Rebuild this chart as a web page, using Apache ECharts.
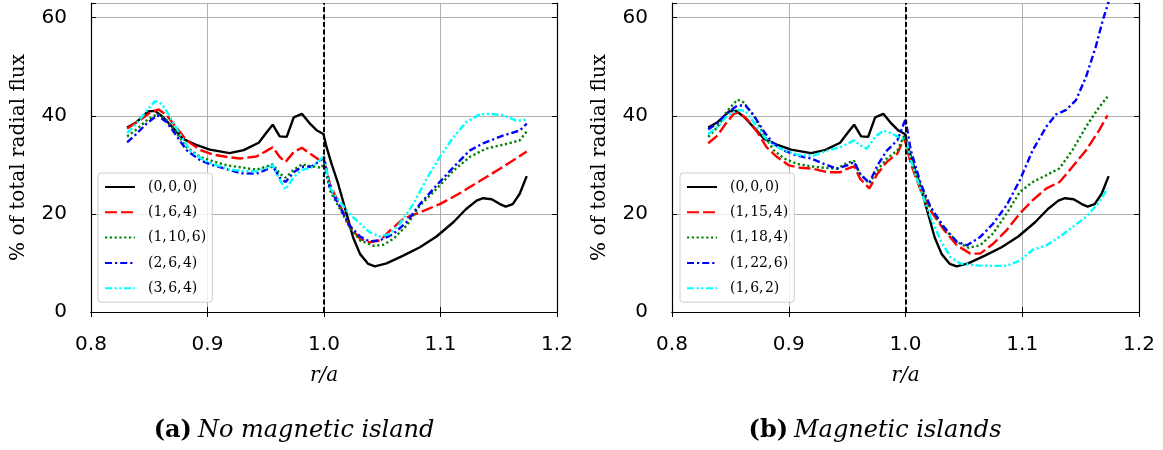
<!DOCTYPE html>
<html>
<head>
<meta charset="utf-8">
<script src="https://cdn.jsdelivr.net/npm/echarts@6.0.0/dist/echarts.min.js"></script>
<style>
  html, body { margin: 0; padding: 0; background: #fff; }
  #chart { width: 1163px; height: 450px; }
</style>
</head>
<body>
<div id="chart"></div>
<script>
// 坐标轴刻度
const xTicks = [0.8, 0.9, 1.0, 1.1, 1.2]
const yTicks = [0, 20, 40, 60]
const edgeX = 1.0

// 两个面板共用的曲线 (0,0,0)
const base000 = [[0.831,37.6],[0.839,38.7],[0.849,40.9],[0.855,41.0],[0.862,39.7],[0.871,37.4],[0.879,35.3],[0.891,34.0],[0.902,33.1],[0.919,32.4],[0.931,33.0],[0.944,34.5],[0.951,36.7],[0.956,38.2],[0.962,35.8],[0.968,35.7],[0.974,39.7],[0.981,40.4],[0.988,38.4],[0.994,37.0],[0.9995,36.3],[1.0022,33.6],[1.0065,30.2],[1.0122,26.1],[1.0194,20.0],[1.025,15.2],[1.031,11.8],[1.038,9.8],[1.0437,9.3],[1.0537,9.9],[1.068,11.5],[1.0823,13.2],[1.0966,15.4],[1.111,18.3],[1.122,21.0],[1.131,22.7],[1.1366,23.2],[1.144,23.0],[1.151,22.0],[1.156,21.5],[1.162,22.0],[1.168,24.1],[1.174,27.7]]

// (a) 无磁岛
const a164 = [[0.831,37.4],[0.842,39.1],[0.851,40.7],[0.858,41.3],[0.865,40.1],[0.874,37.4],[0.882,35.0],[0.894,33.0],[0.905,32.1],[0.917,31.6],[0.928,31.3],[0.942,31.7],[0.951,32.9],[0.956,33.6],[0.962,31.6],[0.967,30.6],[0.974,32.6],[0.981,33.5],[0.988,32.3],[0.9966,30.9],[1.0,31.0],[1.005,26.1],[1.0137,21.7],[1.0222,17.3],[1.031,14.9],[1.039,14.2],[1.048,14.6],[1.0566,16.6],[1.068,19.0],[1.0823,20.3],[1.0994,22.0],[1.1166,24.2],[1.1337,26.7],[1.151,29.2],[1.174,32.7]]
const a1106 = [[0.831,35.8],[0.839,37.2],[0.848,39.1],[0.857,40.4],[0.865,39.1],[0.874,36.3],[0.882,33.6],[0.894,31.6],[0.905,30.7],[0.917,29.9],[0.931,29.4],[0.942,29.0],[0.951,29.7],[0.956,30.1],[0.962,28.2],[0.967,27.4],[0.974,29.0],[0.981,30.1],[0.989,29.7],[0.998,29.4],[1.0,30.5],[1.005,24.8],[1.0137,21.0],[1.022,17.3],[1.031,14.6],[1.0423,13.5],[1.051,13.7],[1.0594,14.9],[1.0708,17.6],[1.0823,21.7],[1.0966,25.1],[1.111,28.8],[1.125,31.6],[1.139,33.3],[1.157,34.3],[1.168,35.0],[1.174,36.8]]
const a264 = [[0.831,34.6],[0.839,36.3],[0.848,38.5],[0.857,40.1],[0.865,38.7],[0.874,35.7],[0.882,33.0],[0.894,30.9],[0.905,29.9],[0.917,29.1],[0.928,28.3],[0.942,28.2],[0.951,29.1],[0.956,29.7],[0.962,27.4],[0.967,26.5],[0.974,28.5],[0.981,29.6],[0.989,29.6],[0.998,31.1],[1.0,31.6],[1.005,25.4],[1.0137,21.4],[1.022,17.6],[1.031,15.4],[1.039,14.4],[1.048,14.6],[1.0594,15.9],[1.0708,18.3],[1.0823,22.0],[1.0966,25.8],[1.111,29.5],[1.125,32.9],[1.1366,34.4],[1.154,36.0],[1.168,37.0],[1.174,38.4]]
const a364 = [[0.831,36.5],[0.839,38.4],[0.848,41.1],[0.855,43.0],[0.861,42.4],[0.868,39.7],[0.877,36.0],[0.885,32.9],[0.897,30.9],[0.908,29.9],[0.919,29.1],[0.931,28.7],[0.942,28.7],[0.951,29.4],[0.956,29.9],[0.962,27.0],[0.967,25.0],[0.974,27.5],[0.981,29.0],[0.989,29.4],[0.998,31.3],[1.0,31.6],[1.005,25.4],[1.0137,22.4],[1.022,20.0],[1.031,18.0],[1.039,16.3],[1.048,15.4],[1.0566,15.9],[1.065,18.0],[1.0766,22.0],[1.088,27.1],[1.0994,31.6],[1.111,35.6],[1.122,38.7],[1.1337,40.3],[1.142,40.4],[1.154,40.1],[1.165,39.0],[1.174,39.2]]

// (b) 有磁岛
const b1154 = [[0.831,34.4],[0.839,36.0],[0.846,38.4],[0.853,40.4],[0.857,40.7],[0.864,39.4],[0.873,36.7],[0.881,33.6],[0.890,31.6],[0.900,29.9],[0.910,29.4],[0.921,29.2],[0.933,28.5],[0.944,28.5],[0.950,29.2],[0.956,29.7],[0.961,27.2],[0.969,25.2],[0.976,28.2],[0.984,30.6],[0.993,32.3],[0.999,35.5],[1.0045,30.3],[1.013,24.8],[1.0215,20.7],[1.033,16.7],[1.044,13.6],[1.0555,11.9],[1.064,11.9],[1.075,13.9],[1.0867,16.7],[1.098,20.1],[1.109,22.8],[1.1207,25.2],[1.132,26.5],[1.143,29.6],[1.1547,33.0],[1.166,37.1],[1.173,40.1]]
const b1184 = [[0.831,35.7],[0.839,37.7],[0.847,40.9],[0.856,43.3],[0.861,42.8],[0.870,40.1],[0.879,36.0],[0.887,33.0],[0.896,31.3],[0.907,30.2],[0.919,29.7],[0.930,29.4],[0.941,29.2],[0.950,30.4],[0.956,30.8],[0.961,28.2],[0.969,26.2],[0.976,28.9],[0.984,31.3],[0.993,32.9],[0.999,36.0],[1.0045,31.0],[1.013,25.5],[1.0215,21.1],[1.033,17.0],[1.044,14.3],[1.054,13.1],[1.064,13.6],[1.075,16.0],[1.0867,20.1],[1.098,24.5],[1.109,26.5],[1.1207,27.9],[1.132,29.3],[1.143,33.0],[1.1547,37.8],[1.166,41.8],[1.173,43.9]]
const b1226 = [[0.831,37.2],[0.839,38.5],[0.847,40.5],[0.856,42.1],[0.863,42.1],[0.870,40.1],[0.879,36.7],[0.887,34.3],[0.896,32.9],[0.907,31.9],[0.919,31.3],[0.930,30.2],[0.941,29.2],[0.950,29.9],[0.956,30.6],[0.961,28.2],[0.969,26.3],[0.976,29.9],[0.984,32.9],[0.993,35.0],[1.0,39.3],[1.0045,33.0],[1.013,26.2],[1.0215,21.4],[1.033,17.3],[1.044,14.3],[1.0527,13.6],[1.064,15.3],[1.075,18.0],[1.0867,21.8],[1.098,26.9],[1.109,33.0],[1.1207,37.8],[1.129,40.3],[1.1377,41.2],[1.146,43.2],[1.1547,48.0],[1.163,54.1],[1.169,59.5],[1.174,63.3]]
const b162 = [[0.831,36.3],[0.839,37.7],[0.847,39.9],[0.856,41.2],[0.863,41.0],[0.870,38.7],[0.879,35.7],[0.887,34.0],[0.899,32.7],[0.910,31.9],[0.921,31.9],[0.933,32.9],[0.944,33.6],[0.951,34.4],[0.956,35.0],[0.961,34.0],[0.967,33.3],[0.974,35.7],[0.981,37.0],[0.989,36.3],[0.997,35.3],[1.0,35.7],[1.0045,31.0],[1.013,24.8],[1.0215,19.4],[1.030,14.6],[1.0385,11.2],[1.047,9.9],[1.061,9.5],[1.075,9.4],[1.0867,9.4],[1.098,10.5],[1.109,12.7],[1.1207,13.6],[1.132,15.3],[1.143,17.3],[1.1547,19.4],[1.166,22.4],[1.173,25.2]]

const namesA = ['(0,\u200a0,\u200a0)', '(1,\u200a6,\u200a4)', '(1,\u200a10,\u200a6)', '(2,\u200a6,\u200a4)', '(3,\u200a6,\u200a4)']
const namesB = ['(0,\u200a0,\u200a0)', '(1,\u200a15,\u200a4)', '(1,\u200a18,\u200a4)', '(1,\u200a22,\u200a6)', '(1,\u200a6,\u200a2)']

// 线型: 实线 / 虚线 / 点线 / 点划线 / 双点划线
const colors = ['#000000', '#ff0000', '#008000', '#0000ff', '#00ffff']
const dashes = ['solid', [12, 4], [2.2, 2.6], [7, 3, 2.2, 3], [7, 2.5, 2.2, 2.5, 2.2, 2.5]]

const serif = 'DejaVu Serif'
const sans = 'DejaVu Sans'

function line(name, data, i, panel) {
    return {
        name: name,
        type: 'line',
        xAxisIndex: panel * 2,
        yAxisIndex: panel * 2,
        data: data,
        symbol: 'none',
        smooth: false,
        clip: true,
        lineStyle: { color: colors[i], width: 2.4, type: dashes[i], cap: 'butt' },
        itemStyle: { color: colors[i] },
        z: 3
    }
}

function edgeLine(panel) {
    return {
        type: 'line',
        xAxisIndex: panel * 2,
        yAxisIndex: panel * 2,
        data: [],
        z: 5,
        markLine: {
            silent: true,
            symbol: ['none', 'none'],
            label: { show: false },
            lineStyle: { color: '#000', type: [5, 2.5], width: 2 },
            data: [{ xAxis: edgeX }]
        }
    }
}

function xAxes(panel) {
    let common = {
        type: 'value', gridIndex: panel, min: 0.8, max: 1.2, interval: 0.1,
        axisLine: { show: true, lineStyle: { color: '#000', width: 1.2 } },
        axisTick: { show: true, inside: true, length: 5, lineStyle: { color: '#000', width: 1 } }
    }
    return [
        Object.assign({}, common, {
            position: 'bottom',
            axisLabel: {
                margin: 23, fontFamily: sans, fontSize: 20, color: '#000',
                formatter: function (v) { return xTicks.some(t => Math.abs(t - v) < 1e-6) ? v.toFixed(1) : '' }
            },
            splitLine: { show: true, lineStyle: { color: '#b0b0b0', width: 1 } },
            name: 'r/a',
            nameLocation: 'middle',
            nameGap: 54,
            nameTextStyle: { fontFamily: serif, fontStyle: 'italic', fontSize: 20, color: '#000' }
        }),
        Object.assign({}, common, {
            position: 'top',
            axisLabel: { show: false },
            splitLine: { show: false }
        })
    ]
}

function yAxes(panel) {
    let common = {
        type: 'value', gridIndex: panel, min: 0, max: 63, interval: 20,
        axisLine: { show: true, lineStyle: { color: '#000', width: 1.2 } },
        axisTick: { show: true, inside: true, length: 5, lineStyle: { color: '#000', width: 1 } }
    }
    return [
        Object.assign({}, common, {
            position: 'left',
            axisLabel: {
                margin: 24, fontFamily: sans, fontSize: 20, color: '#000',
                formatter: function (v) { return yTicks.indexOf(v) >= 0 ? String(v) : '' }
            },
            splitLine: { show: true, lineStyle: { color: '#b0b0b0', width: 1 } },
            name: '% of total radial flux',
            nameLocation: 'middle',
            nameRotate: 90,
            nameGap: 62,
            nameTextStyle: { fontFamily: serif, fontSize: 20, color: '#000' }
        }),
        Object.assign({}, common, {
            position: 'right',
            axisLabel: { show: false },
            splitLine: { show: false }
        })
    ]
}

function legendFor(names, left) {
    return {
        data: names,
        orient: 'vertical',
        left: left,
        top: 173,
        itemWidth: 30,
        itemHeight: 14,
        itemGap: 11.3,
        padding: [7, 6, 7, 6],
        backgroundColor: 'rgba(255,255,255,0.8)',
        borderColor: '#cccccc',
        borderWidth: 1,
        borderRadius: 3,
        selectedMode: false,
        // 只画线, 隐藏折线图例上的圆点
        itemStyle: { opacity: 0 },
        textStyle: { fontFamily: serif, fontSize: 14, color: '#000', padding: [0, 0, 0, 8] }
    }
}

let myChart = echarts.init(document.getElementById('chart'), null, { renderer: 'canvas' })

let seriesA = [base000, a164, a1106, a264, a364].map((d, i) => line(namesA[i], d, i, 0))
let seriesB = [base000, b1154, b1184, b1226, b162].map((d, i) => line(namesB[i], d, i, 1))

let captionRich = {
    b: { fontFamily: serif, fontWeight: 'bold', fontSize: 24, fill: '#000' },
    i: { fontFamily: serif, fontStyle: 'italic', fontSize: 24, fill: '#000', padding: [0, 0, 0, 6] }
}

myChart.setOption({
    animation: false,
    backgroundColor: '#ffffff',
    grid: [
        { left: 91, top: 3, width: 466, height: 309 },
        { left: 672, top: 3, width: 467, height: 309 }
    ],
    xAxis: xAxes(0).concat(xAxes(1)),
    yAxis: yAxes(0).concat(yAxes(1)),
    legend: [legendFor(namesA, 98), legendFor(namesB, 680)],
    series: seriesA.concat(seriesB, [edgeLine(0), edgeLine(1)]),
    // 子图标题
    graphic: [
        {
            type: 'text', x: 294, y: 431,
            style: { text: '{b|(a)}{i|No magnetic island}', align: 'center', verticalAlign: 'middle', rich: captionRich }
        },
        {
            type: 'text', x: 875, y: 431,
            style: { text: '{b|(b)}{i|Magnetic islands}', align: 'center', verticalAlign: 'middle', rich: captionRich }
        }
    ]
})
</script>
</body>
</html>
